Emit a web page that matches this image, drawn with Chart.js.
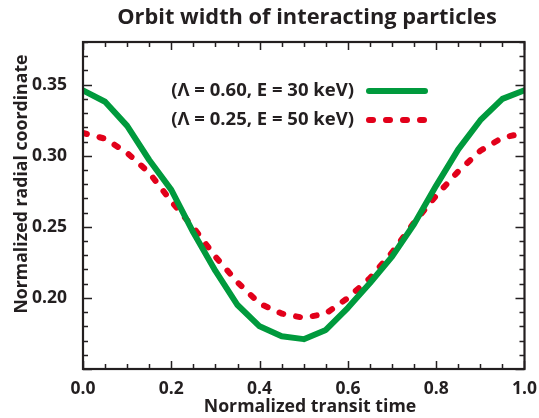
<!DOCTYPE html>
<html>
<head>
<meta charset="utf-8">
<script src="https://cdn.jsdelivr.net/npm/chart.js@4.4.1/dist/chart.umd.min.js"></script>
<style>
  html, body { margin: 0; padding: 0; background: #fff; }
  #wrap { width: 539px; height: 418px; }
</style>
</head>
<body>
<div id="wrap"><canvas id="orbitChart"></canvas></div>
<script>
// transit time samples and the two orbit widths
const transitTime = [0, 0.05, 0.1, 0.15, 0.2, 0.25, 0.3, 0.35, 0.4, 0.45, 0.5,
                     0.55, 0.6, 0.65, 0.7, 0.75, 0.8, 0.85, 0.9, 0.95, 1.0];
const widthLambda060 = [0.346, 0.338, 0.321, 0.297, 0.276, 0.246, 0.219, 0.195, 0.180, 0.173, 0.171,
                        0.1775, 0.193, 0.2105, 0.229, 0.252, 0.279, 0.3045, 0.325, 0.340, 0.346];
const widthLambda025 = [0.316, 0.312, 0.302, 0.288, 0.268, 0.2495, 0.229, 0.211, 0.196, 0.189, 0.186,
                        0.189, 0.200, 0.214, 0.232, 0.253, 0.272, 0.289, 0.3035, 0.3127, 0.316];
const seriesLabels = ['(Λ = 0.60, E = 30 keV)', '(Λ = 0.25, E = 50 keV)'];
const yTickValues = [0.20, 0.25, 0.30, 0.35];

const FONT = '"Open Sans", Lato, sans-serif';
const INK = '#231f20';
const GREEN = '#009a3d';
const RED = '#e2001a';

function toPoints(ys) {
    return transitTime.map((t, i) => ({ x: t, y: ys[i] }));
}

// frame, inward ticks on all four sides, titles and the in-plot legend
const framePlugin = {
    id: 'frame',
    afterDraw(chart) {
        const c = chart.ctx;
        const a = chart.chartArea;
        const xs = chart.scales.x, ys = chart.scales.y;
        c.save();
        c.strokeStyle = INK;
        c.lineWidth = 1.5;
        c.beginPath();
        for (let v = 0; v <= 1.0001; v += 0.05) {
            const px = Math.round(xs.getPixelForValue(v)) + 0.5;
            const major = Math.abs(v * 5 - Math.round(v * 5)) < 1e-6;
            const len = major ? 8 : 5;
            c.moveTo(px, a.bottom); c.lineTo(px, a.bottom - len);
            c.moveTo(px, a.top); c.lineTo(px, a.top + len);
        }
        for (let k = 15; k <= 38; k++) {
            const v = k / 100;
            const py = Math.round(ys.getPixelForValue(v)) + 0.5;
            const len = (k % 5 === 0) ? 9 : 5;
            c.moveTo(a.left, py); c.lineTo(a.left + len, py);
            c.moveTo(a.right, py); c.lineTo(a.right - len, py);
        }
        c.stroke();
        c.lineWidth = 2.2;
        c.strokeRect(a.left, a.top, a.right - a.left, a.bottom - a.top);

        // titles
        c.fillStyle = INK;
        c.textAlign = 'center';
        c.textBaseline = 'middle';
        c.font = 'bold 21.8px ' + FONT;
        c.fillText('Orbit width of interacting particles', 307, 18);
        c.font = 'bold 17.7px ' + FONT;
        c.fillText('Normalized transit time', 310, 407);
        c.save();
        c.translate(22, 184);
        c.rotate(-Math.PI / 2);
        c.fillText('Normalized radial coordinate', 0, 0);
        c.restore();

        // legend: text right-aligned, line sample to the right
        const rows = [
            { y: 91, color: GREEN, dash: [] },
            { y: 120, color: RED, dash: [4, 13] }
        ];
        c.font = 'bold 18.5px ' + FONT;
        c.textAlign = 'right';
        rows.forEach((r, i) => {
            c.fillStyle = INK;
            c.fillText(seriesLabels[i], 354, r.y);
            c.strokeStyle = r.color;
            c.lineWidth = 6;
            c.lineCap = 'round';
            c.setLineDash(r.dash);
            c.beginPath();
            c.moveTo(369, r.y);
            c.lineTo(425, r.y);
            c.stroke();
            c.setLineDash([]);
        });
        c.restore();
    }
};

const ctx = document.getElementById('orbitChart');
new Chart(ctx, {
    type: 'line',
    data: {
        datasets: [
            {
                label: seriesLabels[0],
                data: toPoints(widthLambda060),
                borderColor: GREEN,
                borderWidth: 6,
                pointRadius: 0,
                tension: 0,
                borderJoinStyle: 'round',
                borderCapStyle: 'round'
            },
            {
                label: seriesLabels[1],
                data: toPoints(widthLambda025),
                borderColor: RED,
                borderWidth: 6,
                borderDash: [4, 13],
                borderCapStyle: 'round',
                borderJoinStyle: 'round',
                pointRadius: 0,
                tension: 0
            }
        ]
    },
    options: {
        responsive: true,
        maintainAspectRatio: false,
        animation: false,
        layout: { padding: { top: 42, right: 12, left: 0, bottom: 0 } },
        plugins: {
            legend: { display: false },
            title: { display: false },
            tooltip: { enabled: false }
        },
        scales: {
            x: {
                type: 'linear',
                min: 0,
                max: 1,
                grid: { display: false },
                border: { display: false },
                ticks: {
                    stepSize: 0.2,
                    color: INK,
                    padding: 2,
                    font: { family: FONT, size: 17.5, weight: 'bold' },
                    callback: v => v.toFixed(1)
                },
                afterFit: s => { s.height = 49; }
            },
            y: {
                min: 0.15,
                max: 0.38,
                grid: { display: false },
                border: { display: false },
                afterBuildTicks: s => { s.ticks = yTickValues.map(v => ({ value: v })); },
                ticks: {
                    color: INK,
                    padding: 8,
                    font: { family: FONT, size: 17.5, weight: 'bold' },
                    callback: v => v.toFixed(2)
                },
                afterFit: s => { s.width = 83; }
            }
        }
    },
    plugins: [framePlugin]
});
</script>
</body>
</html>
